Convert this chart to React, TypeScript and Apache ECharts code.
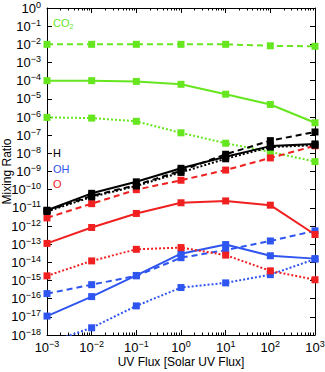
import { useEffect, useRef } from "react";
import * as echarts from "echarts";

// UV flux in units of solar UV flux
const uvFlux = [1e-3, 1e-2, 1e-1, 1e0, 1e1, 1e2, 1e3];

// CO2 mixing ratios
const co2Dashed = [1.0e-2, 1.0e-2, 1.0e-2, 1.0e-2, 1.0e-2, 8.3e-3, 7.8e-3];
const co2Solid = [1.0e-4, 1.0e-4, 9.1e-5, 6.3e-5, 1.8e-5, 4.9e-6, 4.8e-7];
const co2Dotted = [9.5e-7, 8.7e-7, 5.8e-7, 1.35e-7, 3.6e-8, 1.2e-8, 3.5e-9];

// H mixing ratios
const hSolid = [7.4e-12, 6.3e-11, 2.7e-10, 1.5e-9, 6.5e-9, 2.5e-8, 3.3e-8];
const hDashed = [7.1e-12, 4.5e-11, 1.8e-10, 1.1e-9, 8.9e-9, 5.0e-8, 1.5e-7];
const hDotted = [6.3e-12, 4.0e-11, 1.6e-10, 8.9e-10, 5.0e-9, 2.2e-8, 2.8e-8];

// O mixing ratios
const oDashed = [2.8e-12, 1.7e-11, 1.0e-10, 3.3e-10, 1.2e-9, 5.6e-9, 2.6e-8];
const oSolid = [1.1e-13, 8.3e-13, 4.9e-12, 1.9e-11, 2.4e-11, 1.4e-11, 3.4e-13];
const oDotted = [1.8e-15, 1.2e-14, 5.2e-14, 6.5e-14, 2.5e-14, 3.4e-15, 1.1e-15];

// OH mixing ratios
const ohSolid = [1.1e-17, 1.3e-16, 1.9e-15, 3.0e-14, 9.5e-14, 2.3e-14, 1.6e-14];
const ohDashed = [1.9e-16, 5.9e-16, 1.8e-15, 1.8e-14, 4.7e-14, 1.5e-13, 5.4e-13];
const ohDotted = [3.5e-19, 2.5e-18, 4.0e-17, 4.1e-16, 7.4e-16, 2.1e-15, 1.5e-14];

// Axis ticks
const xMajorTicks = [1e-3, 1e-2, 1e-1, 1e0, 1e1, 1e2, 1e3];
const yMajorTicks = [
  1e-18, 1e-17, 1e-16, 1e-15, 1e-14, 1e-13, 1e-12, 1e-11, 1e-10, 1e-9,
  1e-8, 1e-7, 1e-6, 1e-5, 1e-4, 1e-3, 1e-2, 1e-1, 1e0,
];
const minorMultipliers = [2, 3, 4, 5, 6, 7, 8, 9];
const xMinorTicks: number[] = [];
xMajorTicks.slice(0, -1).forEach((d) =>
  minorMultipliers.forEach((m) => xMinorTicks.push(m * d))
);

const GREEN = "#66e61e";
const BLACK = "#000000";
const RED = "#f02020";
const BLUE = "#2f55f0";
const FONT = "Liberation Sans";

function expLabel(v: number) {
  const e = Math.round(Math.log10(v));
  return "10{s|" + (e < 0 ? "\u2212" + -e : String(e)) + "}";
}

const labelRich = {
  s: { fontSize: 9, fontFamily: FONT, color: "#000", verticalAlign: "top" as const, lineHeight: 9 },
};

export default function App() {
  const ref = useRef<HTMLDivElement>(null);
  useEffect(() => {
    if (!ref.current) return;
    const chart = echarts.init(ref.current, undefined, { renderer: "svg" });
    const mk = (name: string, vals: number[], color: string, type: any) => ({
      name,
      type: "line",
      xAxisIndex: 0,
      yAxisIndex: 0,
      data: uvFlux.map((x, i) => [x, vals[i]]),
      symbol: "rect",
      symbolSize: 7,
      clip: true,
      lineStyle: { color, width: 2, type: type === "dotted" ? [2, 2] : type === "dashed" ? [6, 4] : "solid" },
      itemStyle: { color },
      emphasis: { disabled: true },
    });
    const grid = { left: 47, right: 10, top: 8, bottom: 37, outerBoundsMode: "none", containLabel: false };
    const axisLine = { show: true, lineStyle: { color: "#000", width: 1 } };
    chart.setOption({
      animation: false,
      grid: [grid, { ...grid }],
      xAxis: [
        {
          type: "log", gridIndex: 0, position: "bottom", min: 1e-3, max: 1e3,
          axisLine,
          axisTick: { inside: true, length: 5, customValues: xMajorTicks, lineStyle: { color: "#000" } },
          axisLabel: {
            customValues: xMajorTicks, formatter: expLabel, fontSize: 13, fontFamily: FONT,
            color: "#000", margin: 4, lineHeight: 16, rich: labelRich, hideOverlap: false,
          },
          splitLine: { show: false },
          name: "UV Flux [Solar UV Flux]", nameLocation: "middle", nameGap: 21,
          nameMoveOverlap: false,
          nameTextStyle: { fontSize: 12, fontFamily: FONT, color: "#000" },
        },
        {
          type: "log", gridIndex: 0, position: "top", min: 1e-3, max: 1e3,
          axisLine,
          axisTick: { inside: true, length: 5, customValues: xMajorTicks, lineStyle: { color: "#000" } },
          axisLabel: { show: false }, splitLine: { show: false },
        },
        {
          type: "log", gridIndex: 1, position: "bottom", min: 1e-3, max: 1e3,
          axisLine: { show: false },
          axisTick: { inside: true, length: 2.5, customValues: xMinorTicks, lineStyle: { color: "#000" } },
          axisLabel: { show: false }, splitLine: { show: false },
        },
        {
          type: "log", gridIndex: 1, position: "top", min: 1e-3, max: 1e3,
          axisLine: { show: false },
          axisTick: { inside: true, length: 2.5, customValues: xMinorTicks, lineStyle: { color: "#000" } },
          axisLabel: { show: false }, splitLine: { show: false },
        },
      ],
      yAxis: [
        {
          type: "log", gridIndex: 0, position: "left", min: 1e-18, max: 1,
          axisLine,
          axisTick: { inside: true, length: 5, customValues: yMajorTicks, lineStyle: { color: "#000" } },
          axisLabel: {
            customValues: yMajorTicks, formatter: expLabel, fontSize: 13, fontFamily: FONT,
            color: "#000", margin: 6, lineHeight: 16, rich: labelRich, hideOverlap: false,
          },
          splitLine: { show: false },
          name: "Mixing Ratio", nameLocation: "middle", nameGap: 34,
          nameMoveOverlap: false,
          nameTextStyle: { fontSize: 12, fontFamily: FONT, color: "#000" },
        },
        {
          type: "log", gridIndex: 0, position: "right", min: 1e-18, max: 1,
          axisLine,
          axisTick: { inside: true, length: 5, customValues: yMajorTicks, lineStyle: { color: "#000" } },
          axisLabel: { show: false }, splitLine: { show: false },
        },
        {
          type: "log", gridIndex: 1, min: 1e-18, max: 1, show: false,
        },
      ],
      series: [
        mk("CO2 dashed", co2Dashed, GREEN, "dashed"),
        mk("CO2 solid", co2Solid, GREEN, "solid"),
        mk("CO2 dotted", co2Dotted, GREEN, "dotted"),
        mk("OH dotted", ohDotted, BLUE, "dotted"),
        mk("OH dashed", ohDashed, BLUE, "dashed"),
        mk("OH solid", ohSolid, BLUE, "solid"),
        mk("O dotted", oDotted, RED, "dotted"),
        mk("O solid", oSolid, RED, "solid"),
        mk("O dashed", oDashed, RED, "dashed"),
        mk("H dotted", hDotted, BLACK, "dotted"),
        mk("H dashed", hDashed, BLACK, "dashed"),
        mk("H solid", hSolid, BLACK, "solid"),
      ],
      graphic: [
        {
          type: "text", x: 53, y: 23, z: 100,
          style: {
            text: "CO{sub|2}", fill: GREEN, fontSize: 11, fontFamily: FONT,
            textAlign: "left", textVerticalAlign: "middle",
            rich: { sub: { fontSize: 7, fill: GREEN, verticalAlign: "bottom", padding: [6, 0, 0, 0] } },
          },
        },
        {
          type: "text", x: 53, y: 153, z: 100,
          style: { text: "H", fill: BLACK, fontSize: 11, fontFamily: FONT, textAlign: "left", textVerticalAlign: "middle" },
        },
        {
          type: "text", x: 53, y: 169, z: 100,
          style: { text: "OH", fill: BLUE, fontSize: 11, fontFamily: FONT, textAlign: "left", textVerticalAlign: "middle" },
        },
        {
          type: "text", x: 53, y: 184, z: 100,
          style: { text: "O", fill: RED, fontSize: 11, fontFamily: FONT, textAlign: "left", textVerticalAlign: "middle" },
        },
      ],
    });
    return () => chart.dispose();
  }, []);
  return (
    <div
      ref={ref}
      style={{ position: "fixed", left: 0, top: 0, width: 325, height: 372, background: "#fff" }}
    />
  );
}
